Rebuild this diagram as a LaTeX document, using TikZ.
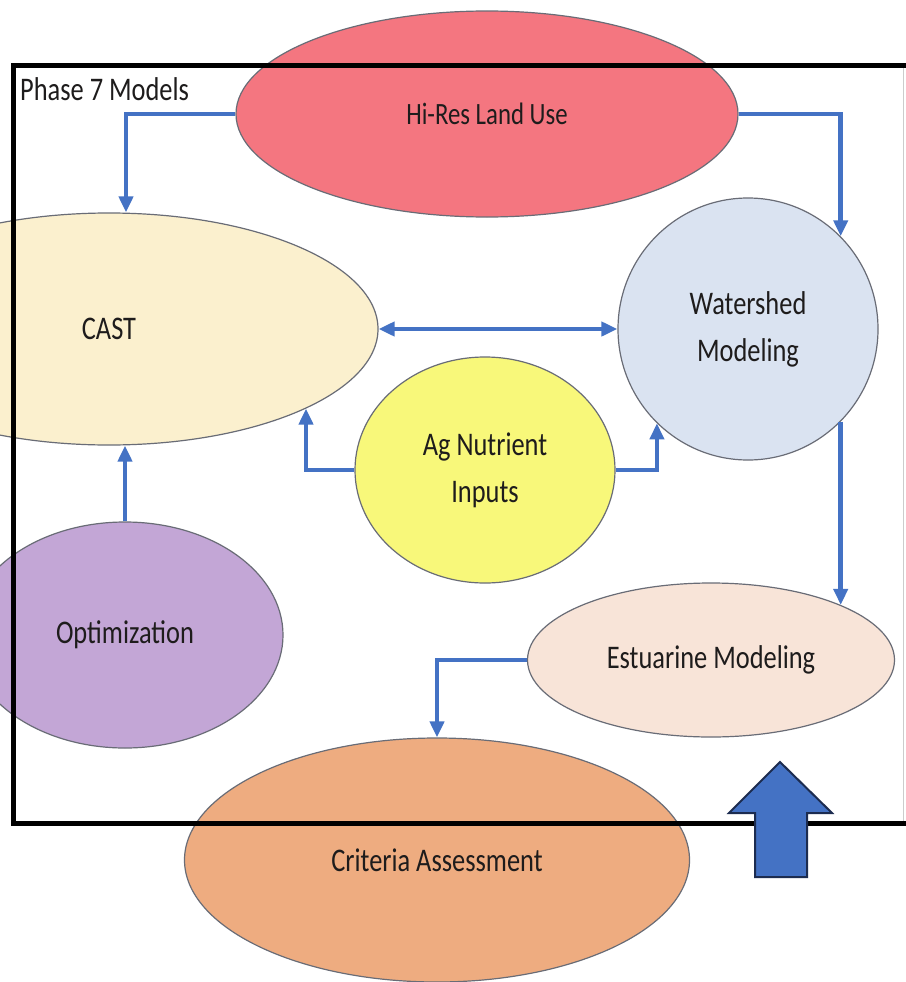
\documentclass[tikz,border=0pt]{standalone}
\usepackage{fontspec}
\setmainfont{Carlito}[FakeStretch=0.8]
\usetikzlibrary{arrows.meta,calc,shapes.geometric}
\definecolor{bordergray}{RGB}{105,108,118}
\definecolor{textdark}{RGB}{30,28,28}
\definecolor{linkblue}{RGB}{68,114,196}
\definecolor{blockedge}{RGB}{28,44,80}
\definecolor{hirescol}{RGB}{244,118,128}
\definecolor{castcol}{RGB}{251,240,206}
\definecolor{wscol}{RGB}{218,227,241}
\definecolor{agcol}{RGB}{248,248,122}
\definecolor{optcol}{RGB}{195,166,214}
\definecolor{estcol}{RGB}{248,228,216}
\definecolor{critcol}{RGB}{238,172,128}
\begin{document}
\begin{tikzpicture}[x=1pt,y=-1pt,
  bub/.style={ellipse, draw=bordergray, line width=1.2pt, inner sep=0pt,
    align=center, text=textdark, font=\fontsize{33}{47}\selectfont},
  conn/.style={draw=linkblue, line width=4.5pt,
    -{Triangle[length=16pt,width=14pt]}},
  dconn/.style={draw=linkblue, line width=4.5pt,
    {Triangle[length=16pt,width=14pt]}-{Triangle[length=16pt,width=14pt]}}]
\useasboundingbox (0,0) rectangle (905,982);
\fill[white] (0,0) rectangle (905,982);

% bubbles
\node[bub, fill=hirescol, minimum width=502pt, minimum height=206pt, font=\fontsize{31}{40}\selectfont] (hires) at (487,114) {Hi-Res Land Use};
\node[bub, fill=castcol, minimum width=538pt, minimum height=232pt] (cast) at (109,329) {CAST};
\node[bub, fill=wscol, minimum width=260pt, minimum height=262pt] (ws) at (748,329) {Watershed\\Modeling};
\node[bub, fill=agcol, minimum width=260pt, minimum height=226pt] (ag) at (485,470) {Ag Nutrient\\Inputs};
\node[bub, fill=optcol, minimum width=316pt, minimum height=226pt] (opt) at (125,635) {Optimization};
\node[bub, fill=estcol, minimum width=367pt, minimum height=154pt] (est) at (711,660) {Estuarine Modeling};
\node[bub, fill=critcol, minimum width=505pt, minimum height=244pt] (crit) at (437,860) {Criteria Assessment};

% connectors
\draw[conn] (hires.west) -| ($(cast.north)+(17,0)$);
\draw[conn] (hires.east) -| (ws.45);
\draw[dconn] (cast.east) -- (ws.west);
\draw[conn] (ag.west) -| (cast.-22.7);
\draw[conn] (ag.east) -| (ws.226);
\draw[conn] (opt.north) -- (opt.north |- cast.south);
\draw[conn] (ws.-45) -- (ws.-45 |- est.23.1);
\draw[conn] (est.west) -| (crit.north);

% frame
\draw[line width=0.8pt, black!20] (903.5,66) -- (903.5,823);
\draw[line width=5pt, black] (910,66) -- (13,66) -- (13,823) -- (910,823);
\node[anchor=base west, inner sep=0pt, text=textdark, font=\fontsize{33}{40}\selectfont] (title) at (20,100) {Phase 7 Models};

% block arrow
\draw[fill=linkblue, draw=blockedge, line width=2pt, line join=miter]
  (780,762) -- (832,813) -- (807,813) -- (807,877) -- (755,877) -- (755,813) -- (729,813) -- cycle;
\end{tikzpicture}
\end{document}
